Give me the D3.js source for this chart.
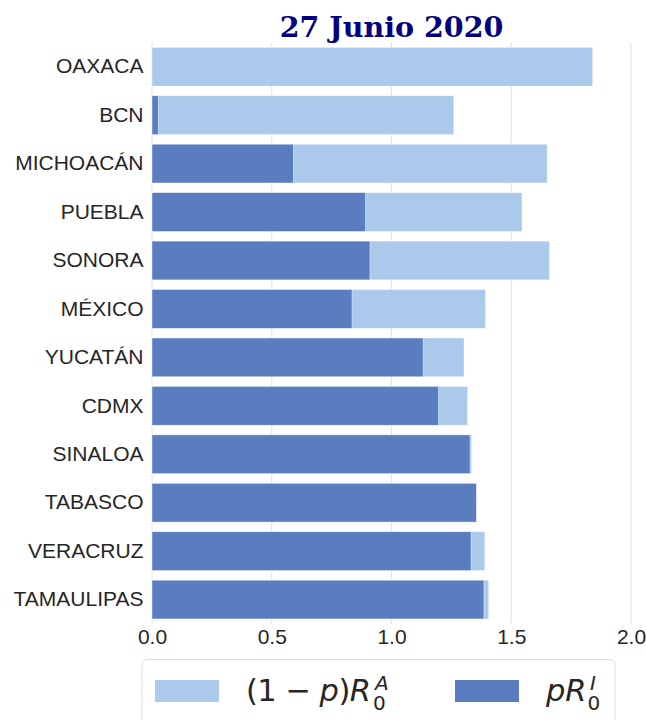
<!DOCTYPE html>
<html>
<head>
<meta charset="utf-8">
<script src="https://cdn.jsdelivr.net/npm/d3@7"></script>
<style>
  html, body { margin: 0; padding: 0; background: #fff; }
  svg { display: block; }
</style>
</head>
<body>
<svg id="chart" width="646" height="720"></svg>
<script>
// States ordered top to bottom
const states = ["OAXACA", "BCN", "MICHOACÁN", "PUEBLA", "SONORA", "MÉXICO",
                "YUCATÁN", "CDMX", "SINALOA", "TABASCO", "VERACRUZ", "TAMAULIPAS"];
// Total R0 = (1-p)R0^A + pR0^I  (light bars)
const totalR0 = [1.84, 1.26, 1.65, 1.545, 1.66, 1.393, 1.303, 1.318, 1.335, 1.355, 1.39, 1.406];
// Infected contribution pR0^I (dark bars)
const pR0I = [0.0, 0.026, 0.59, 0.891, 0.91, 0.835, 1.132, 1.196, 1.328, 1.354, 1.332, 1.386];
const xTicks = [0, 0.5, 1.0, 1.5, 2.0];

const lightColor = "#abc9eb";
const darkColor = "#5a7dbf";

const svg = d3.select("#chart");
const plotTop = 42.5, plotBottom = 623.8;

const x = d3.scaleLinear().domain([0, 2.0]).range([152, 631]);
const y = d3.scaleBand().domain(states).range([plotTop, plotBottom]).paddingInner(0.2).paddingOuter(0.1);

// vertical grid
svg.append("g").selectAll("line").data(xTicks).join("line")
  .attr("x1", d => x(d)).attr("x2", d => x(d))
  .attr("y1", plotTop).attr("y2", plotBottom)
  .attr("stroke", "#e3e3e3").attr("stroke-width", 1.1);

// light bars (total)
svg.append("g").selectAll("rect").data(states).join("rect")
  .attr("x", x(0))
  .attr("y", d => y(d))
  .attr("width", (d, i) => x(totalR0[i]) - x(0))
  .attr("height", y.bandwidth())
  .attr("fill", lightColor)
  .attr("stroke", "#ffffff").attr("stroke-width", 0.6).attr("stroke-opacity", 0.7);

// dark bars (pR0^I)
svg.append("g").selectAll("rect").data(states).join("rect")
  .attr("x", x(0))
  .attr("y", d => y(d))
  .attr("width", (d, i) => x(pR0I[i]) - x(0))
  .attr("height", y.bandwidth())
  .attr("fill", darkColor)
  .attr("stroke", "#ffffff").attr("stroke-width", 0.6).attr("stroke-opacity", 0.7);

// y axis labels
const yAxis = d3.axisLeft(y).tickSize(0).tickPadding(8.5);
const gy = svg.append("g").attr("transform", `translate(${x(0)},0)`).call(yAxis);
gy.select(".domain").remove();
gy.selectAll("text")
  .attr("font-family", "'Liberation Sans', Arial, sans-serif")
  .attr("font-size", 21)
  .attr("fill", "#262626");

// x axis labels
const xAxis = d3.axisBottom(x).tickValues(xTicks).tickFormat(d3.format(".1f")).tickSize(0).tickPadding(5);
const gx = svg.append("g").attr("transform", `translate(0,${plotBottom})`).call(xAxis);
gx.select(".domain").remove();
gx.selectAll("text")
  .attr("font-family", "'Liberation Sans', Arial, sans-serif")
  .attr("font-size", 21)
  .attr("fill", "#262626");

// title
svg.append("text")
  .attr("x", (x(0) + x(2)) / 2)
  .attr("y", 37)
  .attr("text-anchor", "middle")
  .attr("font-family", "'DejaVu Serif', serif")
  .attr("font-weight", "bold")
  .attr("font-size", 28.5)
  .attr("fill", "#000080")
  .text("27 Junio 2020");

// legend
const lg = svg.append("g");
lg.append("rect")
  .attr("x", 142).attr("y", 659.5)
  .attr("width", 473).attr("height", 80)
  .attr("rx", 5)
  .attr("fill", "#fff")
  .attr("stroke", "#dcdcdc").attr("stroke-width", 1);

lg.append("rect").attr("x", 155).attr("y", 680).attr("width", 64).attr("height", 22).attr("fill", lightColor);
lg.append("rect").attr("x", 455).attr("y", 680).attr("width", 64).attr("height", 22).attr("fill", darkColor);

const fs = 30.5, fsSmall = 20;
const mathFont = "'DejaVu Sans', sans-serif";
const baseY = 700.5, subY = 709.5, supY = 689.5;

// (1 − p)R_0^A
const t1 = lg.append("text")
  .attr("x", 246).attr("y", baseY)
  .attr("font-family", mathFont).attr("font-size", fs).attr("fill", "#262626")
  .attr("textLength", 125).attr("lengthAdjust", "spacing");
t1.append("tspan").text("(1 − ");
t1.append("tspan").attr("font-style", "italic").text("p");
t1.append("tspan").text(")");
t1.append("tspan").attr("font-style", "italic").text("R");
lg.append("text").attr("x", 373).attr("y", subY)
  .attr("font-family", mathFont).attr("font-size", fsSmall).attr("fill", "#262626").text("0");
lg.append("text").attr("x", 375).attr("y", supY)
  .attr("font-family", mathFont).attr("font-size", fsSmall).attr("font-style", "italic").attr("fill", "#262626").text("A");

// pR_0^I
lg.append("text")
  .attr("x", 546).attr("y", baseY)
  .attr("font-family", mathFont).attr("font-size", fs).attr("font-style", "italic").attr("fill", "#262626")
  .text("pR");
lg.append("text").attr("x", 587.5).attr("y", subY)
  .attr("font-family", mathFont).attr("font-size", fsSmall).attr("fill", "#262626").text("0");
lg.append("text").attr("x", 590).attr("y", supY)
  .attr("font-family", mathFont).attr("font-size", fsSmall).attr("font-style", "italic").attr("fill", "#262626").text("I");
</script>
</body>
</html>
